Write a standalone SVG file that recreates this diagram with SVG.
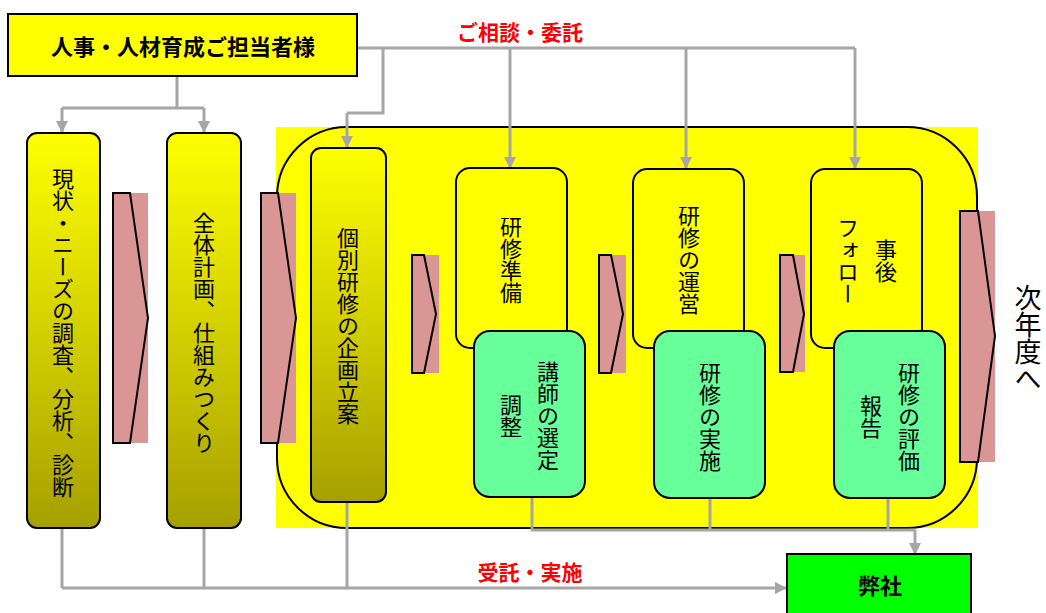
<svg xmlns="http://www.w3.org/2000/svg" width="1046" height="613" viewBox="0 0 1046 613">
<defs>
<linearGradient id="olive" x1="0" y1="0" x2="0" y2="1">
<stop offset="0" stop-color="#FFFF00"/>
<stop offset="1" stop-color="#A6A000"/>
</linearGradient>
<marker id="ah" markerWidth="12" markerHeight="12" refX="11" refY="6" orient="auto" markerUnits="userSpaceOnUse">
<path d="M0,0 L12,6 L0,12 Z" fill="#A6A6A6"/>
</marker>
</defs>
<style>
.t{font-family:"Noto Sans CJK JP","Noto Sans CJK SC",sans-serif;fill:#000}
.v{writing-mode:vertical-rl;text-anchor:middle;font-size:22px}
.red{fill:#FF0000;font-weight:bold;font-size:21px;text-anchor:middle}
.conn{fill:none;stroke:#A6A6A6;stroke-width:3}
.col{fill:url(#olive);stroke:#000;stroke-width:2}
.ybox{fill:#FFFF00;stroke:#000;stroke-width:2}
.gbox{fill:#66FF99;stroke:#000;stroke-width:2}
.pk{fill:#D99694}
.pko{fill:#D99694;stroke:#000;stroke-width:2}
</style>
<rect width="1046" height="613" fill="#fff"/>

<g id="frame">
<rect x="276" y="127" width="702" height="401" fill="#FFFF00"/>
<rect x="277" y="127" width="700" height="401" rx="70" fill="none" stroke="#000" stroke-width="2"/>
</g>

<g id="connectors">
<path class="conn" d="M177,76 V108 M62,108 H204" />
<path class="conn" d="M62,108 V132" marker-end="url(#ah)"/>
<path class="conn" d="M204,108 V132" marker-end="url(#ah)"/>
<path class="conn" d="M357,48 H855 M383,48 V113 H347"/>
<path class="conn" d="M347,113 V147" marker-end="url(#ah)"/>
<path class="conn" d="M510,48 V168" marker-end="url(#ah)"/>
<path class="conn" d="M686,48 V168" marker-end="url(#ah)"/>
<path class="conn" d="M855,48 V168" marker-end="url(#ah)"/>
<path class="conn" d="M62,528 V588 M204,528 V588 M347,502 V588"/>
<path class="conn" d="M62,588 H786" marker-end="url(#ah)"/>
<path class="conn" d="M532,497 V530 H915 M710,498 V530 M888,498 V530"/>
<path class="conn" d="M915,530 V554" marker-end="url(#ah)"/>
</g>

<g id="top">
<rect x="8" y="14" width="349" height="62" fill="#FFFF00" stroke="#000" stroke-width="2"/>
<text class="t" x="183" y="55" font-size="22" font-weight="bold" text-anchor="middle">人事・人材育成ご担当者様</text>
</g>

<text class="t red" x="520" y="40">ご相談・委託</text>
<text class="t red" x="530" y="580">受託・実施</text>

<g id="arrows">
<rect class="pk" x="113" y="193" width="35" height="250"/>
<polygon class="pko" points="113,193 130,193 148,318 130,443 113,443"/>
<rect class="pk" x="261" y="193" width="35" height="250"/>
<polygon class="pko" points="261,193 278,193 296,318 278,443 261,443"/>
<rect class="pk" x="412" y="255" width="27" height="118"/>
<polygon class="pko" points="412,255 424,255 436,314 424,373 412,373"/>
<rect class="pk" x="599" y="255" width="27" height="118"/>
<polygon class="pko" points="599,255 611,255 623,314 611,373 599,373"/>
<rect class="pk" x="780" y="255" width="25" height="117"/>
<polygon class="pko" points="780,255 793,255 804,314 793,372 780,372"/>
<rect class="pk" x="960" y="211" width="35" height="251"/>
<polygon class="pko" points="960,211 978,211 995,336 978,462 960,462"/>
</g>

<g id="n1">
<rect class="col" x="27" y="133" width="73" height="395" rx="10"/>
<text class="t v" x="63" y="333">現状・ニーズの調査、分析、診断</text>
</g>
<g id="n2">
<rect class="col" x="167" y="133" width="74" height="395" rx="10"/>
<text class="t v" x="204" y="333">全体計画、仕組みつくり</text>
</g>
<g id="n3">
<rect class="col" x="311" y="148" width="75" height="354" rx="10"/>
<text class="t v" x="348" y="326">個別研修の企画立案</text>
</g>
<g id="n4">
<rect class="ybox" x="456" y="168" width="111" height="180" rx="14"/>
<text class="t v" x="511" y="260">研修準備</text>
</g>
<g id="n5">
<rect class="gbox" x="474" y="331" width="111" height="166" rx="16"/>
<text class="t v" x="548" y="416">講師の選定</text>
<text class="t v" x="511" y="416">調整</text>
</g>
<g id="n6">
<rect class="ybox" x="633" y="169" width="111" height="179" rx="14"/>
<text class="t v" x="689" y="260">研修の運営</text>
</g>
<g id="n7">
<rect class="gbox" x="654" y="331" width="111" height="167" rx="16"/>
<text class="t v" x="710" y="417">研修の実施</text>
</g>
<g id="n8">
<rect class="ybox" x="811" y="169" width="111" height="179" rx="14"/>
<text class="t v" x="886" y="261">事後</text>
<text class="t v" x="848" y="261">フォロー</text>
</g>
<g id="n9">
<rect class="gbox" x="834" y="331" width="111" height="167" rx="16"/>
<text class="t v" x="909" y="417">研修の評価</text>
<text class="t v" x="871" y="417">報告</text>
</g>
<g id="n10">
<text class="t" x="1028" y="338" font-size="27" style="writing-mode:vertical-rl;text-anchor:middle">次年度へ</text>
</g>
<g id="n11">
<rect x="787" y="554" width="184" height="70" fill="#00FF00" stroke="#000" stroke-width="2"/>
<text class="t" x="880" y="594" font-size="22" font-weight="bold" text-anchor="middle">弊社</text>
</g>
</svg>
